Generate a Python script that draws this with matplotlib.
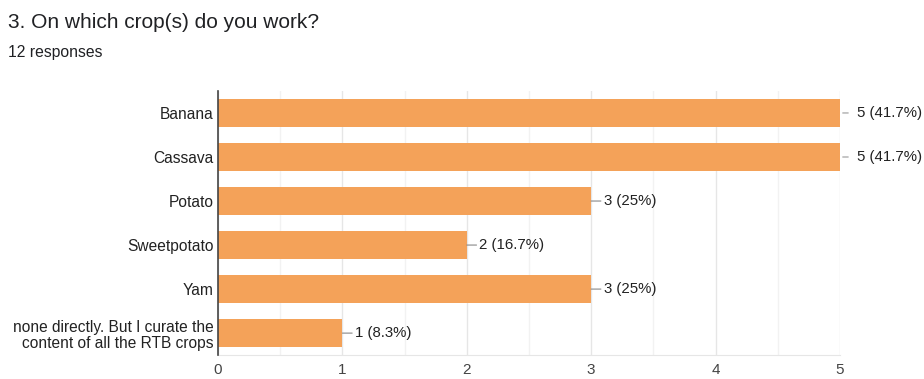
import matplotlib

matplotlib.use("Agg")
import matplotlib.pyplot as plt
import numpy as np

categories = [
    "Banana",
    "Cassava",
    "Potato",
    "Sweetpotato",
    "Yam",
    "none directly. But I curate the\ncontent of all the RTB crops",
]
counts = [5, 5, 3, 2, 3, 1]
labels = ["5 (41.7%)", "5 (41.7%)", "3 (25%)", "2 (16.7%)", "3 (25%)", "1 (8.3%)"]

plt.rcParams["font.family"] = ["Liberation Sans", "DejaVu Sans"]

fig = plt.figure(figsize=(9.24, 3.79), dpi=100)
ax = fig.add_axes([0.236, 0.063, 0.673, 0.697])

y = np.arange(len(categories))
ax.barh(y, counts, height=0.63, color="#F4A259", zorder=2)

ax.set_xlim(0, 5)
ax.set_ylim(len(categories) - 0.5, -0.5)
ax.set_yticks(y)
ax.set_yticklabels(categories, fontsize=11.2, color="#222222", linespacing=1.15)
ax.set_xticks(range(6))
ax.set_xticks(np.arange(0.5, 5, 1), minor=True)
ax.tick_params(axis="x", which="both", length=0, pad=6, labelsize=11, colors="#444444")
ax.tick_params(axis="y", length=0, pad=3)
ax.grid(axis="x", which="major", color="#E6E6E6", linewidth=1, zorder=0)
ax.grid(axis="x", which="minor", color="#F2F2F2", linewidth=1, zorder=0)

for s in ["top", "right"]:
    ax.spines[s].set_visible(False)
ax.spines["bottom"].set_color("#E6E6E6")
ax.spines["left"].set_color("#444444")
ax.spines["left"].set_linewidth(1.2)
ax.spines["left"].set_zorder(3)

# value labels with a short leader line
for yi, v, lab in zip(y, counts, labels):
    if v == max(counts):
        ax.annotate("", xy=(v, yi), xytext=(6, 0), textcoords="offset points",
                    arrowprops=dict(arrowstyle="-", color="#999999", lw=0.8,
                                    shrinkA=0, shrinkB=2), annotation_clip=False)
        ax.annotate(lab, xy=(v, yi), xytext=(12, 0), textcoords="offset points",
                    va="center", ha="left", fontsize=10.8, color="#222222",
                    annotation_clip=False)
    else:
        ax.annotate(lab, xy=(v, yi), xytext=(9, 0), textcoords="offset points",
                    va="center", ha="left", fontsize=10.8, color="#222222",
                    arrowprops=dict(arrowstyle="-", color="#888888", lw=0.8,
                                    shrinkA=0, shrinkB=0))

fig.text(0.009, 0.940, "3. On which crop(s) do you work?", fontsize=15,
         color="#202124", va="center", ha="left")
fig.text(0.009, 0.862, "12 responses", fontsize=11.3, color="#202124",
         va="center", ha="left")

fig.savefig("out.png", dpi=100)
